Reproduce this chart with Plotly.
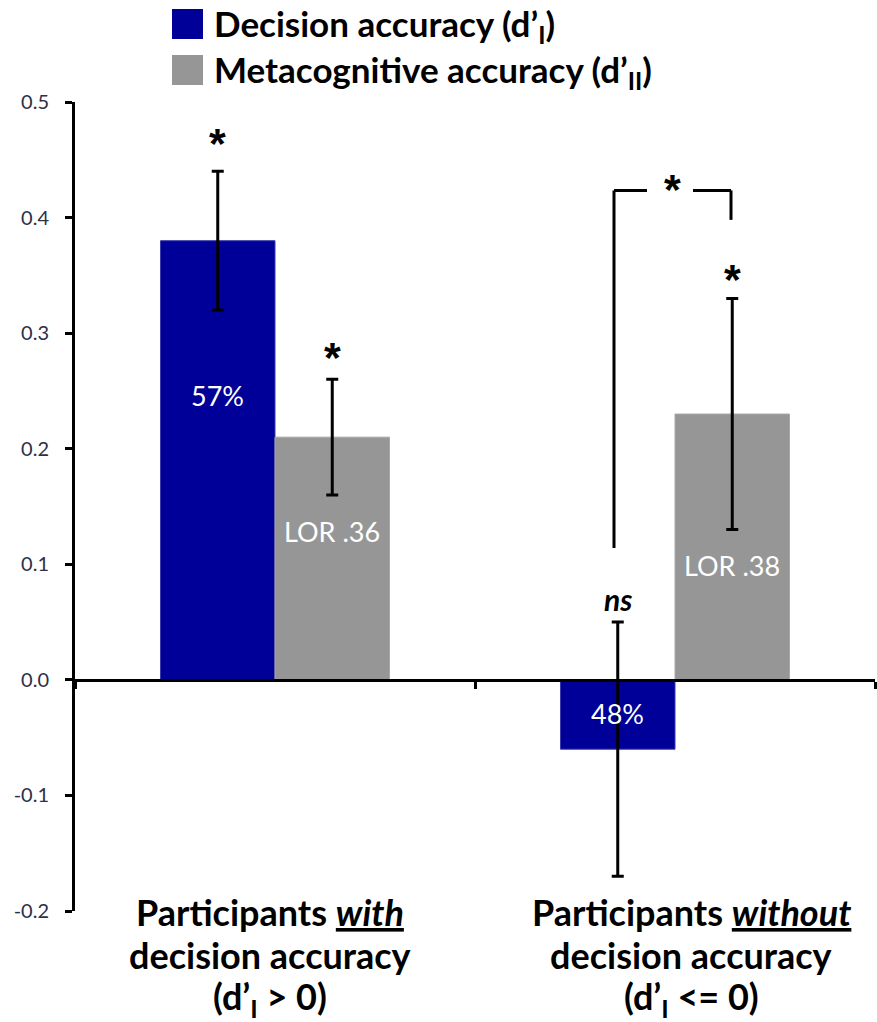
import plotly.graph_objects as go

# ---- data -------------------------------------------------------------
groups = ["with", "without"]
decision = [0.38, -0.06]          # d'_I
decision_err = [0.06, 0.11]
meta = [0.21, 0.23]               # d'_II
meta_err = [0.05, 0.10]
decision_labels = ["57%", "48%"]
meta_labels = ["LOR .36", "LOR .38"]
decision_sig = ["*", "ns"]
meta_sig = ["*", "*"]
y_ticks = [-0.2, -0.1, 0.0, 0.1, 0.2, 0.3, 0.4, 0.5]
group_titles = [
    ["Participants <i><span style='text-decoration:underline'>with</span></i>",
     "decision accuracy", "(d’<sub>I</sub> > 0)"],
    ["Participants <i><span style='text-decoration:underline'>without</span></i>",
     "decision accuracy", "(d’<sub>I</sub> <= 0)"],
]

# ---- geometry / style ---------------------------------------------------
W, H = 877, 1022
ML, MR, MT, MB = 75, 2, 102, 111
PW, PH = W - ML - MR, H - MT - MB
Y_RANGE = [-0.2, 0.5]
BARGAP = 0.4275
BLUE, GRAY = "#000099", "#969696"
FONT = "Lato"
STAR_FONT = "Liberation Sans"
STAR_SIZE = 43
STAR_DROP = 5                           # pull the raised glyph down to its target

half_bar = (1 - BARGAP) / 4            # bar-centre offset in category units
px_per_cat = PW / len(groups)
bar_shift = half_bar * px_per_cat       # same offset in pixels


def paper_x(px):
    return (px - ML) / PW


def paper_y(py):
    return (H - MB - py) / PH


fig = go.Figure()
fig.add_trace(go.Bar(
    x=groups, y=decision, name="Decision accuracy",
    marker=dict(color=BLUE, line=dict(color="#3a3aad", width=1)),
    error_y=dict(type="data", array=decision_err, color="black",
                 thickness=3, width=6),
))
fig.add_trace(go.Bar(
    x=groups, y=meta, name="Metacognitive accuracy",
    marker=dict(color=GRAY, line=dict(color="#a8a8a8", width=1)),
    error_y=dict(type="data", array=meta_err, color="black",
                 thickness=3, width=6),
))

annotations = []

# value labels inside the bars
dec_label_y = [0.246, -0.029]
meta_label_y = [0.128, 0.099]
for g, txt, yy in zip(groups, decision_labels, dec_label_y):
    annotations.append(dict(x=g, y=yy, xref="x", yref="y", text=txt,
                            showarrow=False, xshift=-bar_shift,
                            font=dict(family=FONT, size=27, color="white")))
for g, txt, yy in zip(groups, meta_labels, meta_label_y):
    annotations.append(dict(x=g, y=yy, xref="x", yref="y", text=txt,
                            showarrow=False, xshift=bar_shift,
                            font=dict(family=FONT, size=27, color="white")))


def sig_mark(g, top, mark, gap, shift):
    if mark == "*":
        return dict(x=g, y=top, xref="x", yref="y", text="<b>*</b>",
                    showarrow=False, xshift=shift, yshift=gap - STAR_DROP,
                    yanchor="middle",
                    font=dict(family=STAR_FONT, size=STAR_SIZE, color="black"))
    return dict(x=g, y=top, xref="x", yref="y", text=f"<b><i>{mark}</i></b>",
                showarrow=False, xshift=shift, yshift=gap + 4,
                yanchor="middle",
                font=dict(family=FONT, size=30, color="black"))


# significance marks above the error bars (gap = pixels above the bar's cap)
dec_sig_gap = [33, 19]
meta_sig_gap = [27, 24]
for g, v, e, s, gap in zip(groups, decision, decision_err, decision_sig, dec_sig_gap):
    annotations.append(sig_mark(g, v + e, s, gap, -bar_shift))
for g, v, e, s, gap in zip(groups, meta, meta_err, meta_sig, meta_sig_gap):
    annotations.append(sig_mark(g, v + e, s, gap, bar_shift))

# comparison bracket for the second group
shapes = []
bx_left, bx_right = 1 - 0.1525, 1 + 0.14
by_top, by_left, by_right = 0.4235, 0.114, 0.398
bracket = dict(type="line", xref="x", yref="y",
               line=dict(color="black", width=3))
shapes += [
    dict(bracket, x0=bx_left, x1=bx_left, y0=by_left, y1=by_top),
    dict(bracket, x0=bx_left, x1=1 - 0.07, y0=by_top, y1=by_top),
    dict(bracket, x0=1 + 0.045, x1=bx_right, y0=by_top, y1=by_top),
    dict(bracket, x0=bx_right, x1=bx_right, y0=by_top, y1=by_right),
]
annotations.append(dict(x=1 - 0.0075, y=by_top, xref="x", yref="y",
                        text="<b>*</b>", showarrow=False, yanchor="middle",
                        yshift=6 - STAR_DROP,
                        font=dict(family=STAR_FONT, size=STAR_SIZE, color="black")))

# legend drawn as squares with labels
legend_items = [(BLUE, "Decision accuracy (d’<sub>I</sub>)"),
                (GRAY, "Metacognitive accuracy (d’<sub>II</sub>)")]
for i, (col, txt) in enumerate(legend_items):
    top = 9 + i * 46
    shapes.append(dict(type="rect", xref="paper", yref="paper",
                       x0=paper_x(172), x1=paper_x(203),
                       y0=paper_y(top + 30), y1=paper_y(top),
                       fillcolor=col, line=dict(width=0)))
    annotations.append(dict(x=paper_x(212), y=paper_y(top + 17),
                            xref="paper", yref="paper", text=f"<b>{txt}</b>",
                            showarrow=False, xanchor="left", yanchor="middle",
                            font=dict(family=FONT, size=35, color="black")))

# group titles below the plot
title_cx = [270, 691]
title_cy = [912, 955, 998]
for cx, lines in zip(title_cx, group_titles):
    for cy, line in zip(title_cy, lines):
        annotations.append(dict(x=paper_x(cx), y=paper_y(cy),
                                xref="paper", yref="paper",
                                text=f"<b>{line}</b>", showarrow=False,
                                xanchor="center", yanchor="middle",
                                font=dict(family=FONT, size=36, color="black")))

fig.update_layout(
    width=W, height=H,
    margin=dict(l=ML, r=MR, t=MT, b=MB),
    paper_bgcolor="white", plot_bgcolor="white",
    barmode="group", bargap=BARGAP, bargroupgap=0,
    showlegend=False,
    shapes=shapes, annotations=annotations,
    font=dict(family=FONT),
)
fig.update_yaxes(
    range=Y_RANGE, tickvals=y_ticks, ticktext=[f"{v:.1f}" for v in y_ticks],
    showline=True, linecolor="black", linewidth=3,
    ticks="outside", ticklen=7, tickwidth=3, tickcolor="black",
    ticklabelstandoff=12,
    tickfont=dict(family=FONT, size=20, color="#2d3047"),
    showgrid=False, zeroline=False,
)
fig.update_xaxes(
    type="category", range=[-0.5, 1.5],
    anchor="free", position=(0 - Y_RANGE[0]) / (Y_RANGE[1] - Y_RANGE[0]),
    showline=True, linecolor="black", linewidth=3,
    ticks="outside", tickson="boundaries", ticklen=7, tickwidth=3,
    tickcolor="black", showticklabels=False, showgrid=False, zeroline=False,
)

fig.write_html("out.html")
